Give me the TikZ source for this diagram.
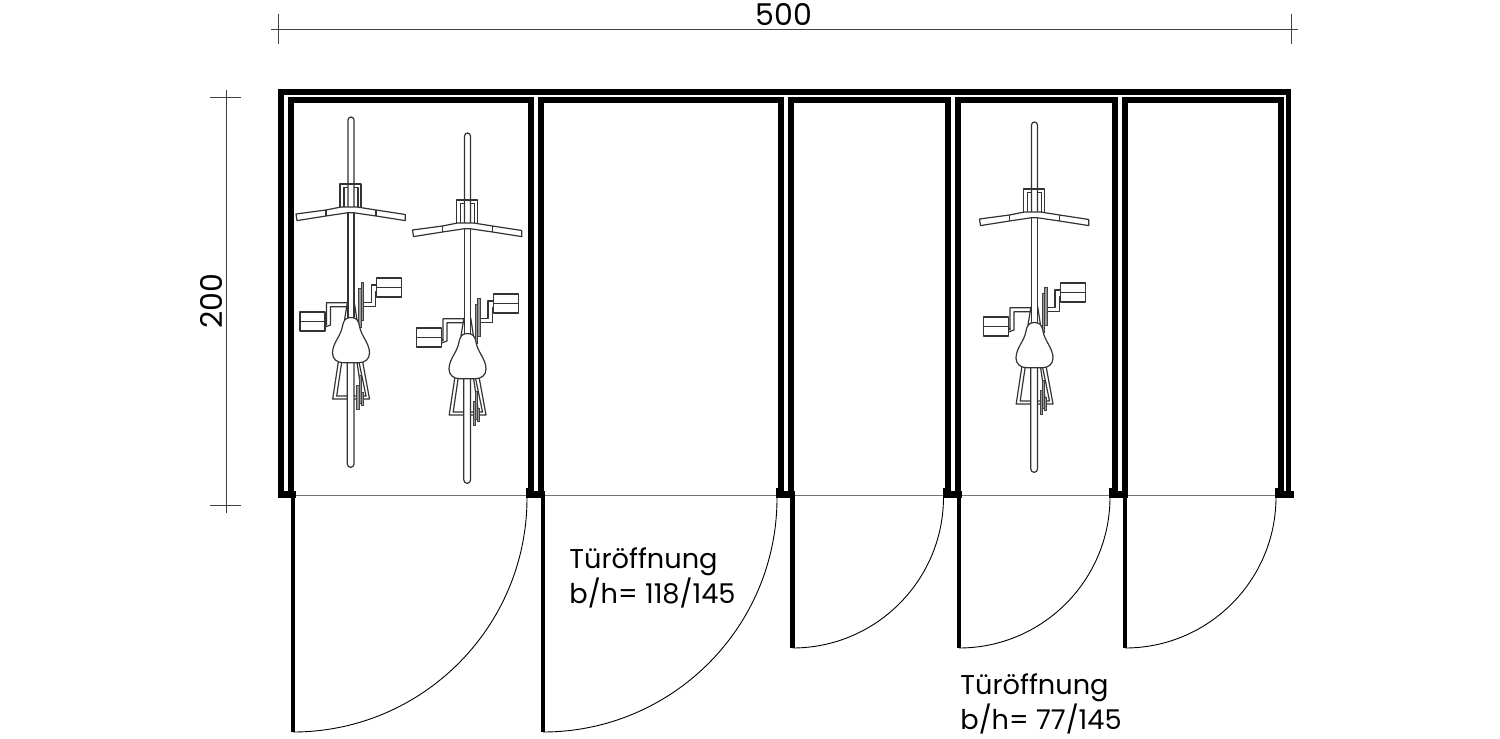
\documentclass[tikz,border=0pt]{standalone}
\usepackage{fontspec}
\setmainfont{Poppins}
\definecolor{thin}{gray}{0.25}
\tikzset{
  x=0.5pt,y=-0.5pt,
  wall/.style={fill=black,draw=none},
  dim/.style={draw=thin,line width=0.3pt},
  doorleaf/.style={draw=black,line width=2.3pt},
  swing/.style={draw=black,line width=0.45pt},
  sill/.style={draw=black!55,line width=0.5pt},
  bk/.style={draw=black!80,line width=0.6pt,line join=round},
  bkgray/.style={fill=black!40,draw=black!75,line width=0.4pt},
  lab/.style={inner sep=0pt,font=\fontsize{13.6}{17.5}\selectfont,align=left},
  dimlab/.style={inner sep=0pt,font=\fontsize{15}{17}\selectfont},
  pics/bike/.style={code={
    % front wheel
    \draw[bk] (-3,207) -- (-3,120) arc[start angle=180,end angle=360,radius=3] -- (3,207);
    % rack
    \draw[bk] (-11,207) -- (-11,184) -- (10,184) -- (10,207);
    \draw[bk] (-7,207) -- (-7,187.5) -- (-3,187.5);
    \draw[bk] (7,207) -- (7,187.5) -- (3,187.5);
    % handlebar
    \draw[bk,fill=white] (-55,214) -- (-25,210) -- (-10,207) -- (6,207) -- (25,210) -- (54.3,214.5) -- (54.3,220.6) -- (25,216) -- (2.3,212.7) -- (-3,212.7) -- (-25,216) -- (-54,220.6) -- cycle;
    \draw[bk] (-25,210) -- (-25,216) (25,210) -- (25,216);
    % frame
    \draw[bk] (-3,212.7) -- (-3,320) (3,212.7) -- (3,320);
    % pedals
    \draw[bk] (25.7,278) rectangle (50.7,297) (25.7,287.5) -- (50.7,287.5);
    \draw[bk] (-51,312) rectangle (-26,331) (-51,321.5) -- (-26,321.5);
    % cranks
    \draw[bk] (-26,323) -- (-24.5,325) -- (-24.5,302.7) -- (-4,302.7);
    \draw[bk] (-26,327) -- (-20.5,325) -- (-20.5,306.7) -- (-4,306.7);
    \draw[bk] (12,302.7) -- (20.5,302.7) -- (20.5,285) -- (25.7,285);
    \draw[bk] (12,306.7) -- (24.8,306.7) -- (24.8,292) -- (25.7,292);
    % chainring
    \draw[bkgray] (10,282) rectangle (12.5,320);
    \draw[bkgray] (7.5,288) rectangle (10,327);
    % tube flanks to saddle
    \draw[bk] (-3.5,301.7) -- (-6.5,320) (3.2,301.7) -- (7,327);
    % seat stays
    \draw[bk] (-12.7,362) -- (-18.3,399) -- (18.5,399) -- (11.7,362);
    \draw[bk] (-9.3,362) -- (-14.3,396) -- (15,396) -- (8,362);
    \draw[bk] (6,362) -- (11,396);
    % cassette
    \draw[bkgray] (5.7,385) rectangle (8,409);
    \draw[bkgray] (8.3,375) rectangle (10,403);
    \draw[bkgray] (10,392) rectangle (12,405);
    % rear wheel
    \draw[bk,fill=white] (-3.7,362) -- (-3.7,464) arc[start angle=180,end angle=0,radius=3.35] -- (3,362);
    % saddle
    \draw[bk,fill=white] (0,317.5) .. controls (5,317.5) and (7.5,320) .. (8.5,326)
      .. controls (10,336) and (18.5,343) .. (18.5,353)
      .. controls (18.5,359) and (14,362.7) .. (8,362.7) -- (-8,362.7)
      .. controls (-14,362.7) and (-18.5,359) .. (-18.5,353)
      .. controls (-18.5,343) and (-10,336) .. (-8.5,326)
      .. controls (-7.5,320) and (-5,317.5) .. (0,317.5) -- cycle;
  }},
}
\begin{document}
\begin{tikzpicture}
\useasboundingbox (0,0) rectangle (1500,739);
% sill line
\draw[sill] (278,495) -- (1290,495);
% top beam
\fill[wall] (278,89) rectangle (1291,94.5);
% second beam, broken at each post
\foreach \a/\b in {288/533.5,538/784,788/951,955/1117.5,1122/1283.5}{
  \fill[wall] (\a,97) rectangle (\b,102.5);
}
% outer walls
\fill[wall] (278,89) rectangle ++(5.5,409);
\fill[wall] (1285.5,89) rectangle ++(5.5,409);
% posts
\foreach \a in {288,527.5,538,778,788,945,955,1112,1122,1277.5}{
  \fill[wall] (\a,97) rectangle ++(6,399);
}
% post feet
\foreach \a in {526,776,943,1109,1275}{
  \fill[wall] (\a,488) rectangle ++(8,10);
  \fill[wall] (\a+8,491) rectangle ++(11,7);
}
\fill[wall] (278,491) rectangle (296,498);
\fill[wall] (1275,491) rectangle (1291,498);
% doors
\coordinate (h1) at (293,495); \coordinate (d1) at (293,732);
\coordinate (h2) at (543,495); \coordinate (d2) at (543,732);
\coordinate (h3) at (792.5,495); \coordinate (d3) at (792.5,648);
\coordinate (h4) at (959,495); \coordinate (d4) at (959,648);
\coordinate (h5) at (1125,495); \coordinate (d5) at (1125,648);
\foreach \i in {1,...,5}{\draw[doorleaf] (h\i) -- (d\i);}
\draw[swing] (d1) arc[start angle=90,end angle=0,radius=234];
\draw[swing] (d2) arc[start angle=90,end angle=0,radius=234];
\draw[swing] (d3) arc[start angle=90,end angle=0,radius=151];
\draw[swing] (d4) arc[start angle=90,end angle=0,radius=151];
\draw[swing] (d5) arc[start angle=90,end angle=0,radius=151];
% bikes
\pic at (351,0) {bike};
\pic at (467.5,16) {bike};
\pic at (1034.5,5) {bike};
% dimensions
\coordinate (w1) at (271,29); \coordinate (w2) at (1298,29);
\draw[dim] (w1) -- (w2);
\draw[dim] (278,14) -- (278,44) (1291,14) -- (1291,44);
\coordinate (v1) at (226,90); \coordinate (v2) at (226,513);
\draw[dim] (v1) -- (v2);
\draw[dim] (210,97) -- (241,97) (210,505) -- (241,505);
\node[dimlab] (l500) at (784,15) {500};
\node[dimlab,rotate=90] (l200) at (211,301) {200};
\node[lab,anchor=west] (t1) at (569,578) {Türöffnung\\b/h= 118/145};
\node[lab,anchor=west] (t2) at (960,703.5) {Türöffnung\\b/h= 77/145};
\end{tikzpicture}
\end{document}
